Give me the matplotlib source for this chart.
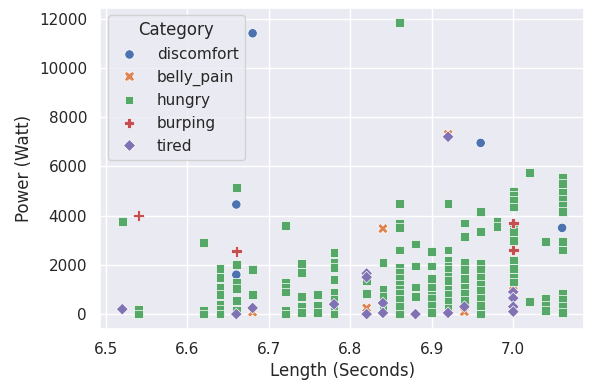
import matplotlib
matplotlib.use("Agg")
import matplotlib.pyplot as plt
import pandas as pd
import seaborn as sns

# Category order as shown in the legend
categories = ["discomfort", "belly_pain", "hungry", "burping", "tired"]
marker_map = {"discomfort": "o", "belly_pain": "X", "hungry": "s",
              "burping": "P", "tired": "D"}
size_map = {"discomfort": 45, "belly_pain": 55, "hungry": 40,
            "burping": 60, "tired": 36}

discomfort_len = [6.66, 6.66, 6.68, 6.96, 7.06]
discomfort_pow = [4450, 1600, 11400, 6950, 3500]

belly_len = [6.68, 6.82, 6.84, 6.92, 6.94, 7.00]
belly_pow = [80, 250, 3470, 7300, 100, 1150]

burping_len = [6.54, 6.66, 7.00, 7.00]
burping_pow = [4000, 2550, 3700, 2600]

tired_len = [6.52, 6.66, 6.68, 6.78, 6.82, 6.82, 6.82, 6.84, 6.84, 6.88,
             6.92, 6.92, 6.94, 7.00, 7.00, 7.00, 7.00]
tired_pow = [200, 0, 250, 400, 1650, 1500, 0, 450, 50, 0,
             7200, 50, 300, 900, 650, 300, 100]

# hungry: one list of power values per length
hungry_cols = {
    6.52: [3750],
    6.54: [200, 0],
    6.62: [2900, 150, 0],
    6.64: [1850, 1500, 1100, 800, 400, 200, 0],
    6.66: [5150, 2000, 1300, 1050, 550, 150],
    6.68: [1800, 800],
    6.72: [3600, 1300, 1100, 900, 150, 0],
    6.74: [2050, 1700, 700, 300, 50],
    6.76: [800, 350, 80],
    6.78: [2500, 2100, 1900, 1400, 900, 600, 200, 0],
    6.82: [1350, 850],
    6.84: [2100, 1000, 700, 300],
    6.86: [11850, 4500, 3700, 3500, 2600, 1900, 1700, 1450, 1200, 1000,
           850, 600, 300, 0],
    6.88: [2850, 1950, 1100, 700],
    6.90: [2550, 1950, 1450, 1100, 750, 650, 350, 80],
    6.92: [4500, 2600, 2200, 1950, 1800, 1550, 1350, 1000, 800, 500, 250],
    6.94: [3700, 3150, 2100, 1800, 1450, 1100, 850, 550],
    6.96: [4150, 3350, 2050, 1800, 1500, 1200, 950, 650, 350, 0],
    6.98: [3750, 3550],
    7.00: [5000, 4800, 4600, 4350, 3550, 3350, 3000, 2200, 1850, 1500, 1300],
    7.02: [5750, 500],
    7.04: [2950, 650, 350, 150],
    7.06: [5550, 5300, 4950, 4650, 4400, 4150, 2950, 2600, 850, 600, 300, 50],
}

rows = []
for x, y in zip(discomfort_len, discomfort_pow):
    rows.append((x, y, "discomfort"))
for x, y in zip(belly_len, belly_pow):
    rows.append((x, y, "belly_pain"))
for x, ys in hungry_cols.items():
    for y in ys:
        rows.append((x, y, "hungry"))
for x, y in zip(burping_len, burping_pow):
    rows.append((x, y, "burping"))
for x, y in zip(tired_len, tired_pow):
    rows.append((x, y, "tired"))

df = pd.DataFrame(rows, columns=["Length (Seconds)", "Power (Watt)", "Category"])

sns.set_theme(style="darkgrid")
fig, ax = plt.subplots(figsize=(5.9, 3.8), dpi=100)
sns.scatterplot(data=df, x="Length (Seconds)", y="Power (Watt)",
                hue="Category", style="Category", size="Category",
                markers=marker_map, sizes=size_map,
                hue_order=categories, style_order=categories,
                size_order=categories, ax=ax)
ax.legend(title="Category", loc="upper left")
plt.subplots_adjust(left=0.17, right=0.99, top=0.98, bottom=0.135)
plt.savefig("out.png")
